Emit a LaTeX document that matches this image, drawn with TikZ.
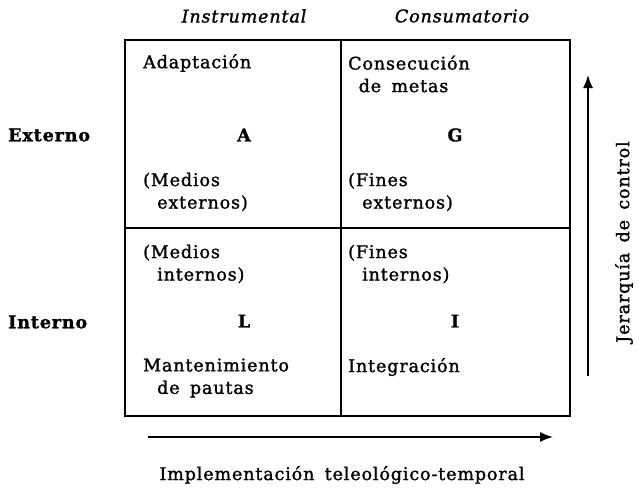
\documentclass[tikz,border=0pt]{standalone}
\usepackage{fontspec}
\usetikzlibrary{arrows.meta}
\setmainfont{DejaVu Serif}[LetterSpace=5,WordSpace=1.6,FakeBold=1.4]
\begin{document}
\begin{tikzpicture}[x=1pt,y=-1pt,
    txt/.style={font=\fontsize{17.5}{22.5}\selectfont, inner sep=0pt, align=left},
    letra/.style={font=\fontsize{17.5}{22.5}\selectfont\bfseries, inner sep=0pt},
    caja/.style={line width=2.4pt},
    flecha/.style={line width=1.6pt, -{Latex[length=13pt,width=10pt]}}]
    \useasboundingbox (0,0) rectangle (639,487);
    % column heads
    \node[txt, anchor=center] at (244,16) (instr) {\itshape Instrumental};
    \node[txt, anchor=center] at (462,16) (consu) {\itshape Consumatorio};
    % the four cells
    \draw[caja] (125,40) rectangle (570,416);
    \draw[caja] (341,40) -- (341,416);
    \draw[caja] (125,228) -- (570,228);
    \node[txt, anchor=west] at (143,63) (adapt) {Adaptación};
    \node[txt, anchor=west] at (348,74) (metas) {Consecución\\\hspace*{0.6em}de metas};
    \node[letra, anchor=center] at (244,135) (a) {A};
    \node[letra, anchor=center] at (455,135) (g) {G};
    \node[txt, anchor=west] at (143,192) (medext) {(Medios\\\hspace*{0.8em}externos)};
    \node[txt, anchor=west] at (348,192) (finext) {(Fines\\\hspace*{0.8em}externos)};
    \node[txt, anchor=west] at (143,264) (medint) {(Medios\\\hspace*{0.8em}internos)};
    \node[txt, anchor=west] at (348,264) (finint) {(Fines\\\hspace*{0.8em}internos)};
    \node[letra, anchor=center] at (244,321) (l) {L};
    \node[letra, anchor=center] at (455,321) (i) {I};
    \node[txt, anchor=west] at (143,378) (mant) {Mantenimiento\\\hspace*{0.8em}de pautas};
    \node[txt, anchor=west] at (348,367) (integ) {Integración};
    % row heads
    \node[letra, anchor=west] at (8,135) (ext) {Externo};
    \node[letra, anchor=west] at (8,322) (int) {Interno};
    % axes
    \coordinate (h0) at (148,437);
    \coordinate (h1) at (553,437);
    \draw[flecha] (h0) -- (h1);
    \node[txt, anchor=center] at (342,475) (impl) {Implementación teleológico-temporal};
    \coordinate (v0) at (588,376);
    \coordinate (v1) at (588,75);
    \draw[flecha] (v0) -- (v1);
    \node[txt, anchor=center, rotate=90] at (624,242) (jer) {Jerarquía de control};
\end{tikzpicture}
\end{document}
